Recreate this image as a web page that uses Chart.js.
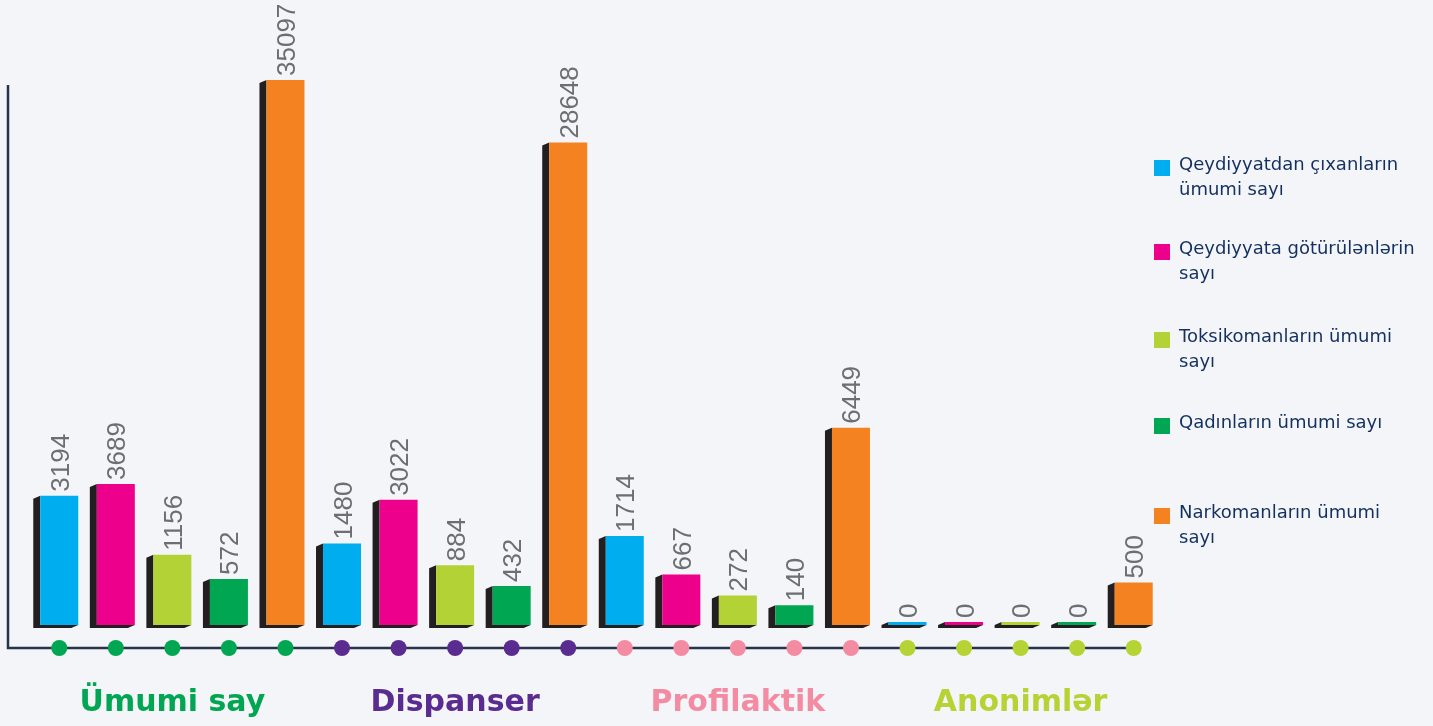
<!DOCTYPE html>
<html>
<head>
<meta charset="utf-8">
<script src="https://cdn.jsdelivr.net/npm/chart.js@4.4.1/dist/chart.umd.min.js"></script>
<style>
  html, body { margin: 0; padding: 0; background: #f4f5f8; }
  #wrap { position: relative; width: 1433px; height: 726px; }
</style>
</head>
<body>
<div id="wrap"><canvas id="myChart"></canvas></div>
<script>
var groups = ['Ümumi say', 'Dispanser', 'Profilaktik', 'Anonimlər'];
var seriesNames = [
	'Qeydiyyatdan çıxanların ümumi sayı',
	'Qeydiyyata götürülənlərin sayı',
	'Toksikomanların ümumi sayı',
	'Qadınların ümumi sayı',
	'Narkomanların ümumi sayı'
];
var deregistered = [3194, 1480, 1714, 0];
var registered = [3689, 3022, 667, 0];
var toxicomans = [1156, 884, 272, 0];
var women = [572, 432, 140, 0];
var narcomans = [35097, 28648, 6449, 500];

var seriesColors = ['#00aeef', '#ec008c', '#b2d235', '#00a651', '#f58220'];
var groupColors = ['#00a651', '#5b2c8f', '#f38ba3', '#b5d334'];

// bars in the picture are not linear, a power scale fits them best
var EXP = 0.6;

class PowScale extends Chart.LinearScale {
	getPixelForValue(value) {
		var a = Math.pow(Math.max(this.min, 0), EXP);
		var b = Math.pow(this.max, EXP);
		var v = Math.pow(Math.max(value, 0), EXP);
		return this.getPixelForDecimal((v - a) / (b - a));
	}
	getValueForPixel(pixel) {
		var a = Math.pow(Math.max(this.min, 0), EXP);
		var b = Math.pow(this.max, EXP);
		var d = this.getDecimalForPixel(pixel);
		return Math.pow(d * (b - a) + a, 1 / EXP);
	}
}
PowScale.id = 'pow';
PowScale.defaults = Chart.LinearScale.defaults;
Chart.register(PowScale);

var allSeries = [deregistered, registered, toxicomans, women, narcomans];
var maxValue = Math.max.apply(null, narcomans.concat(registered, deregistered));

var AXIS_Y = 648;

var extrude = {
	id: 'extrude',
	beforeDatasetsDraw: function(chart) {
		var ctx = chart.ctx;
		ctx.save();
		ctx.fillStyle = '#231f20';
		chart.data.datasets.forEach(function(ds, i) {
			chart.getDatasetMeta(i).data.forEach(function(bar) {
				var p = bar.getProps(['x', 'y', 'width', 'base'], true);
				var x0 = p.x - p.width / 2, x1 = p.x + p.width / 2;
				ctx.beginPath();
				ctx.moveTo(x0, p.y);
				ctx.lineTo(x0 - 7, p.y + 3);
				ctx.lineTo(x0 - 7, p.base + 3);
				ctx.lineTo(x1 - 7, p.base + 3);
				ctx.lineTo(x1, p.base);
				ctx.lineTo(x0, p.base);
				ctx.closePath();
				ctx.fill();
			});
		});
		ctx.restore();
	},
	afterDatasetsDraw: function(chart) {
		var ctx = chart.ctx;
		var area = chart.chartArea;
		ctx.save();
		// axis lines
		ctx.strokeStyle = '#27334a';
		ctx.lineWidth = 2.5;
		ctx.beginPath();
		ctx.moveTo(8, 85);
		ctx.lineTo(8, AXIS_Y);
		ctx.lineTo(area.right - 22, AXIS_Y);
		ctx.stroke();

		ctx.font = '26px "Liberation Sans", Arial, sans-serif';
		chart.data.datasets.forEach(function(ds, i) {
			chart.getDatasetMeta(i).data.forEach(function(bar, j) {
				var p = bar.getProps(['x', 'y'], true);
				// dot on the axis
				ctx.fillStyle = groupColors[j];
				ctx.beginPath();
				ctx.arc(p.x, AXIS_Y, 8, 0, Math.PI * 2);
				ctx.fill();
				// value label
				ctx.save();
				ctx.translate(p.x, p.y - 4);
				ctx.rotate(-Math.PI / 2);
				ctx.fillStyle = '#6d6e71';
				ctx.textAlign = 'left';
				ctx.textBaseline = 'alphabetic';
				ctx.fillText(String(ds.data[j]), 0, 9.5);
				ctx.restore();
			});
		});

		// legend
		ctx.font = '18px "DejaVu Sans", Verdana, sans-serif';
		ctx.textBaseline = 'middle';
		ctx.textAlign = 'left';
		var tops = [167, 251, 339, 425, 515];
		chart.data.datasets.forEach(function(ds, i) {
			ctx.fillStyle = ds.backgroundColor;
			ctx.fillRect(1154, tops[i] - 7, 16, 16);
			var words = ds.label.split(' ');
			var lines = [], line = '';
			words.forEach(function(w) {
				var t = line ? line + ' ' + w : w;
				if (ctx.measureText(t).width > 238 && line) { lines.push(line); line = w; }
				else line = t;
			});
			lines.push(line);
			ctx.fillStyle = '#13305f';
			lines.forEach(function(l, k) {
				ctx.fillText(l, 1179, tops[i] - 2 + k * 25);
			});
		});
		ctx.restore();
	}
};

var ctx = document.getElementById('myChart');
var myChart = new Chart(ctx, {
	type: 'bar',
	data: {
		labels: groups,
		datasets: allSeries.map(function(values, i) {
			return {
				label: seriesNames[i],
				data: values,
				backgroundColor: seriesColors[i],
				borderWidth: 0,
				minBarLength: 3,
				categoryPercentage: 1,
				barPercentage: 0.672
			};
		})
	},
	options: {
		responsive: true,
		maintainAspectRatio: false,
		animation: false,
		layout: { padding: { left: 31, right: 271, top: 80, bottom: 5 } },
		plugins: {
			legend: { display: false },
			tooltip: { enabled: false }
		},
		scales: {
			x: {
				grid: { display: false, drawTicks: false },
				border: { display: false },
				afterFit: function(scale) { scale.height = 96; },
				ticks: {
					padding: 60,
					color: function(c) { return groupColors[c.index]; },
					font: { family: '"DejaVu Sans", Verdana, sans-serif', size: 30, weight: 'bold' }
				}
			},
			y: {
				type: 'pow',
				min: 0,
				max: maxValue,
				display: false
			}
		}
	},
	plugins: [extrude]
});
</script>
</body>
</html>
